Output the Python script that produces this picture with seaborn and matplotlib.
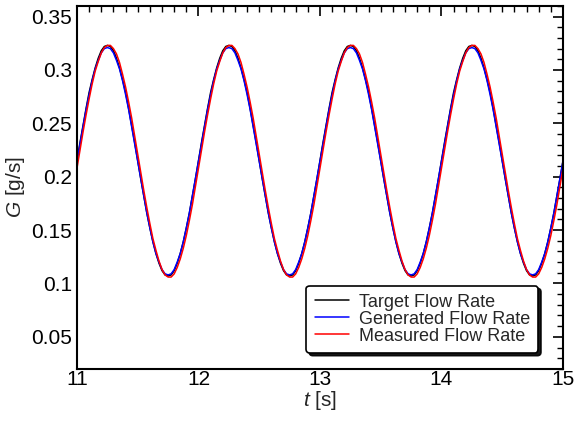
import numpy as np
import pandas as pd
import matplotlib
matplotlib.use("Agg")
import matplotlib.pyplot as plt
import seaborn as sns
from matplotlib.ticker import MultipleLocator

# tempo [s], passo de 0.025 s
t = np.round(np.arange(11.0, 15.0001, 0.025), 3)

# vazao alvo [g/s]
target = [
    0.215, 0.232, 0.248, 0.264, 0.279, 0.291, 0.302, 0.311, 0.318, 0.322, 0.323, 0.322, 0.318, 0.311, 0.302, 0.291, 0.279, 0.264, 0.248, 0.232,
    0.215, 0.198, 0.182, 0.166, 0.152, 0.139, 0.128, 0.119, 0.112, 0.108, 0.107, 0.108, 0.112, 0.119, 0.128, 0.139, 0.152, 0.166, 0.182, 0.198,
    0.215, 0.232, 0.248, 0.264, 0.279, 0.291, 0.302, 0.311, 0.318, 0.322, 0.323, 0.322, 0.318, 0.311, 0.302, 0.291, 0.279, 0.264, 0.248, 0.232,
    0.215, 0.198, 0.182, 0.166, 0.152, 0.139, 0.128, 0.119, 0.112, 0.108, 0.107, 0.108, 0.112, 0.119, 0.128, 0.139, 0.152, 0.166, 0.182, 0.198,
    0.215, 0.232, 0.248, 0.264, 0.279, 0.291, 0.302, 0.311, 0.318, 0.322, 0.323, 0.322, 0.318, 0.311, 0.302, 0.291, 0.279, 0.264, 0.248, 0.232,
    0.215, 0.198, 0.182, 0.166, 0.152, 0.139, 0.128, 0.119, 0.112, 0.108, 0.107, 0.108, 0.112, 0.119, 0.128, 0.139, 0.152, 0.166, 0.182, 0.198,
    0.215, 0.232, 0.248, 0.264, 0.279, 0.291, 0.302, 0.311, 0.318, 0.322, 0.323, 0.322, 0.318, 0.311, 0.302, 0.291, 0.279, 0.264, 0.248, 0.232,
    0.215, 0.198, 0.182, 0.166, 0.152, 0.139, 0.128, 0.119, 0.112, 0.108, 0.107, 0.108, 0.112, 0.119, 0.128, 0.139, 0.152, 0.166, 0.182, 0.198,
    0.215,
]

# vazao gerada
generated = [
    0.2145, 0.231, 0.247, 0.263, 0.277, 0.290, 0.301, 0.309, 0.316, 0.320, 0.321, 0.320, 0.316, 0.309, 0.301, 0.290, 0.277, 0.263, 0.247, 0.231,
    0.2145, 0.198, 0.182, 0.166, 0.152, 0.139, 0.128, 0.120, 0.113, 0.109, 0.108, 0.109, 0.113, 0.120, 0.128, 0.139, 0.152, 0.166, 0.182, 0.198,
    0.2145, 0.231, 0.247, 0.263, 0.277, 0.290, 0.301, 0.309, 0.316, 0.320, 0.321, 0.320, 0.316, 0.309, 0.301, 0.290, 0.277, 0.263, 0.247, 0.231,
    0.2145, 0.198, 0.182, 0.166, 0.152, 0.139, 0.128, 0.120, 0.113, 0.109, 0.108, 0.109, 0.113, 0.120, 0.128, 0.139, 0.152, 0.166, 0.182, 0.198,
    0.2145, 0.231, 0.247, 0.263, 0.277, 0.290, 0.301, 0.309, 0.316, 0.320, 0.321, 0.320, 0.316, 0.309, 0.301, 0.290, 0.277, 0.263, 0.247, 0.231,
    0.2145, 0.198, 0.182, 0.166, 0.152, 0.139, 0.128, 0.120, 0.113, 0.109, 0.108, 0.109, 0.113, 0.120, 0.128, 0.139, 0.152, 0.166, 0.182, 0.198,
    0.2145, 0.231, 0.247, 0.263, 0.277, 0.290, 0.301, 0.309, 0.316, 0.320, 0.321, 0.320, 0.316, 0.309, 0.301, 0.290, 0.277, 0.263, 0.247, 0.231,
    0.2145, 0.198, 0.182, 0.166, 0.152, 0.139, 0.128, 0.120, 0.113, 0.109, 0.108, 0.109, 0.113, 0.120, 0.128, 0.139, 0.152, 0.166, 0.182, 0.198,
    0.2145,
]

# vazao medida
measured = [
    0.208, 0.225, 0.242, 0.258, 0.273, 0.287, 0.299, 0.308, 0.316, 0.321, 0.323, 0.323, 0.320, 0.315, 0.307, 0.296, 0.284, 0.270, 0.255, 0.238,
    0.221, 0.204, 0.187, 0.171, 0.156, 0.142, 0.131, 0.121, 0.113, 0.108, 0.106, 0.106, 0.109, 0.115, 0.123, 0.133, 0.145, 0.159, 0.174, 0.191,
    0.208, 0.225, 0.242, 0.258, 0.273, 0.287, 0.299, 0.308, 0.316, 0.321, 0.323, 0.323, 0.320, 0.315, 0.307, 0.296, 0.284, 0.270, 0.255, 0.238,
    0.221, 0.204, 0.187, 0.171, 0.156, 0.142, 0.131, 0.121, 0.113, 0.108, 0.106, 0.106, 0.109, 0.115, 0.123, 0.133, 0.145, 0.159, 0.174, 0.191,
    0.208, 0.225, 0.242, 0.258, 0.273, 0.287, 0.299, 0.308, 0.316, 0.321, 0.323, 0.323, 0.320, 0.315, 0.307, 0.296, 0.284, 0.270, 0.255, 0.238,
    0.221, 0.204, 0.187, 0.171, 0.156, 0.142, 0.131, 0.121, 0.113, 0.108, 0.106, 0.106, 0.109, 0.115, 0.123, 0.133, 0.145, 0.159, 0.174, 0.191,
    0.208, 0.225, 0.242, 0.258, 0.273, 0.287, 0.299, 0.308, 0.316, 0.321, 0.323, 0.323, 0.320, 0.315, 0.307, 0.296, 0.284, 0.270, 0.255, 0.238,
    0.221, 0.204, 0.187, 0.171, 0.156, 0.142, 0.131, 0.121, 0.113, 0.108, 0.106, 0.106, 0.109, 0.115, 0.123, 0.133, 0.145, 0.159, 0.174, 0.191,
    0.208,
]

series_names = ["Target Flow Rate", "Generated Flow Rate", "Measured Flow Rate"]
series_colors = ["black", "blue", "red"]

df = pd.concat([
    pd.DataFrame({"t": t, "G": target, "serie": series_names[0]}),
    pd.DataFrame({"t": t, "G": generated, "serie": series_names[1]}),
    pd.DataFrame({"t": t, "G": measured, "serie": series_names[2]}),
])

sns.set_style("white")
plt.rcParams["font.family"] = ["Liberation Sans", "DejaVu Sans"]
plt.rcParams["mathtext.fontset"] = "custom"
plt.rcParams["mathtext.it"] = "Liberation Sans:italic"
plt.rcParams["mathtext.rm"] = "Liberation Sans"

fig = plt.figure(figsize=(5.81, 4.23), dpi=100)
ax = fig.add_axes([0.1325, 0.128, 0.8365, 0.858])

sns.lineplot(data=df, x="t", y="G", hue="serie", hue_order=series_names,
             palette=series_colors, linewidth=1.1, ax=ax, sort=False)

ax.set_xlim(11, 15)
ax.set_ylim(0.02, 0.36)
ax.xaxis.set_major_locator(MultipleLocator(1))
ax.xaxis.set_minor_locator(MultipleLocator(0.1))
ax.yaxis.set_minor_locator(MultipleLocator(0.01))
ax.set_yticks([0.05, 0.1, 0.15, 0.2, 0.25, 0.3, 0.35])
ax.set_yticklabels(["0.05", "0.1", "0.15", "0.2", "0.25", "0.3", "0.35"])

ax.tick_params(which="both", direction="in", top=True, right=True,
               labelsize=15, colors="black")
ax.tick_params(axis="x", which="major", pad=1)
ax.tick_params(which="major", length=7, width=1.2)
ax.tick_params(which="minor", length=4, width=1.0)
for s in ax.spines.values():
    s.set_linewidth(1.5)
    s.set_color("black")

ax.set_xlabel("$t$ [s]", fontsize=15, labelpad=0)
ax.set_ylabel("$G$ [g/s]", fontsize=15, labelpad=3)

leg = ax.legend(loc="lower right", bbox_to_anchor=(0.949, 0.044), fontsize=13,
                frameon=True, fancybox=True, framealpha=1,
                shadow={"color": "black", "alpha": 0.9},
                edgecolor="black", handlelength=1.9, borderpad=0.45,
                labelspacing=0.0, handletextpad=0.55, borderaxespad=0)
leg.get_frame().set_linewidth(1.2)

fig.savefig("out.png", dpi=100)
